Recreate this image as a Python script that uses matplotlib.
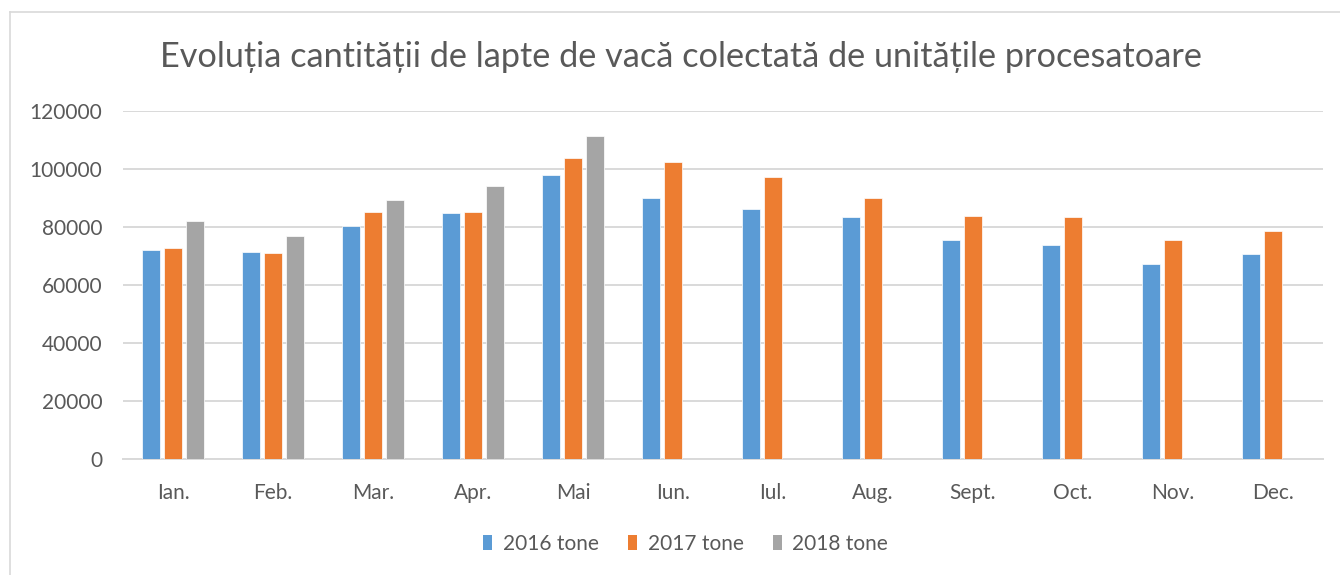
import matplotlib
matplotlib.use("Agg")
import matplotlib.pyplot as plt
import numpy as np
from matplotlib.patches import Patch
from matplotlib.lines import Line2D

months = ["Ian.", "Feb.", "Mar.", "Apr.", "Mai", "Iun.", "Iul.", "Aug.", "Sept.", "Oct.", "Nov.", "Dec."]
t2016 = [71900, 71500, 80300, 84700, 97900, 90000, 86000, 83400, 75400, 73800, 67100, 70700]
t2017 = [72700, 71000, 85200, 85200, 103800, 102500, 97100, 90000, 83800, 83400, 75500, 78600]
t2018 = [82000, 76900, 89200, 94000, 111200, np.nan, np.nan, np.nan, np.nan, np.nan, np.nan, np.nan]
series_names = ["2016 tone", "2017 tone", "2018 tone"]
colors = ["#5B9BD5", "#ED7D31", "#A5A5A5"]
yticks = [0, 20000, 40000, 60000, 80000, 100000, 120000]
title = "Evoluția cantității de lapte de vacă colectată de unitățile procesatoare"

plt.rcParams['font.family'] = ['Lato', 'DejaVu Sans']
txt = "#595959"

W, H = 1340, 575
fig = plt.figure(figsize=(W/100, H/100), dpi=100)
ax = fig.add_axes([123/W, (H-459.3)/H, 1200/W, 348.6/H])

x = np.arange(len(months))
step = 0.22
bw = 0.175
for i, (vals, c) in enumerate(zip([t2016, t2017, t2018], colors)):
    ax.bar(x + (i-1)*step, vals, width=bw, color=c, edgecolor="white", linewidth=0.5, zorder=3)

ax.set_xlim(-0.5, 11.5)
ax.set_ylim(0, 120000)
ax.set_yticks(yticks)
ax.set_yticklabels([str(v) for v in yticks])
ax.set_xticks(x)
ax.set_xticklabels(months)
ax.tick_params(axis='both', length=0, labelsize=15, labelcolor=txt)
ax.tick_params(axis='y', pad=15)
ax.tick_params(axis='x', pad=17)
ax.grid(axis='y', color="#D9D9D9", linewidth=1.4, zorder=0)
for s in ["top", "right", "left"]:
    ax.spines[s].set_visible(False)
ax.spines["bottom"].set_color("#D9D9D9")
ax.spines["bottom"].set_linewidth(1.4)

# title sized to span the same width as in the reference (~1045 px)
t = fig.text(680.5/W, 1-67/H, title, ha='center', va='baseline', fontsize=20, color=txt)
fig.canvas.draw()
wpx = t.get_window_extent(renderer=fig.canvas.get_renderer()).width
t.set_fontsize(20 * 1045.0 / wpx)

handles = [Patch(facecolor=c, edgecolor='none') for c in colors]
fig.legend(handles, series_names, loc='center', bbox_to_anchor=(685.5/W, 1-544/H), ncol=3,
           frameon=False, fontsize=15, labelcolor=txt, handlelength=0.45, handleheight=0.75,
           handletextpad=0.5, columnspacing=1.4)

# chart border (top and left visible)
fig.add_artist(Line2D([10/W, 1], [1-12/H, 1-12/H], color="#D9D9D9", linewidth=1.2, transform=fig.transFigure))
fig.add_artist(Line2D([10/W, 10/W], [0, 1-12/H], color="#D9D9D9", linewidth=1.2, transform=fig.transFigure))

fig.savefig("out.png", dpi=100, facecolor="white")
